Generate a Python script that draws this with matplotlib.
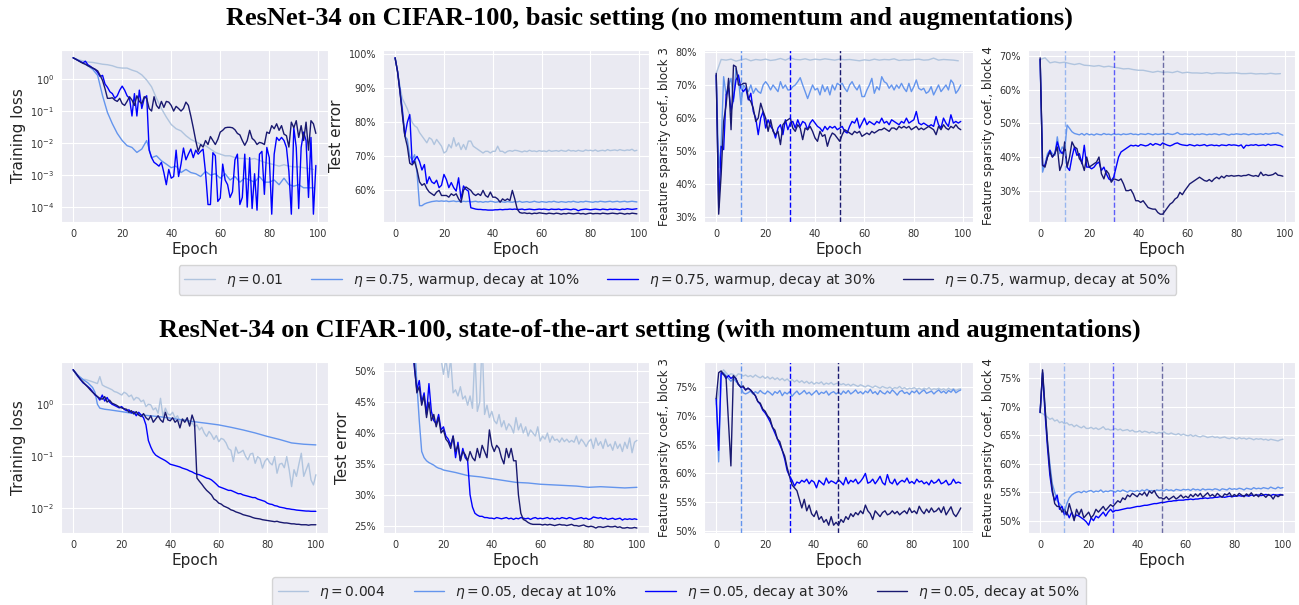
import matplotlib
matplotlib.use("Agg")
import matplotlib.pyplot as plt
import numpy as np
import seaborn as sns
from matplotlib.ticker import PercentFormatter

sns.set_style("darkgrid")
plt.rcParams["font.family"] = ["DejaVu Sans"]

colors = ["lightsteelblue", "cornflowerblue", "blue", "midnightblue"]
labels_top = [r"$\eta = 0.01$", r"$\eta = 0.75$, warmup, decay at 10%",
              r"$\eta = 0.75$, warmup, decay at 30%", r"$\eta = 0.75$, warmup, decay at 50%"]
labels_bot = [r"$\eta = 0.004$", r"$\eta = 0.05$, decay at 10%",
              r"$\eta = 0.05$, decay at 30%", r"$\eta = 0.05$, decay at 50%"]
title_top = "ResNet-34 on CIFAR-100, basic setting (no momentum and augmentations)"
title_bot = "ResNet-34 on CIFAR-100, state-of-the-art setting (with momentum and augmentations)"

# ---------------- top row (basic setting), epochs 0..99 ----------------
# training loss; "_2" series are sampled every 2 epochs
loss_t_a2 = [4.6, 4.0, 3.7, 3.4, 3.3, 3.1, 2.9, 2.8, 2.6, 2.3,
             2.2, 2.2, 1.9, 1.7, 1.35, 0.93, 0.57, 0.25, 0.12, 0.065,
             0.038, 0.028, 0.024, 0.017, 0.013, 0.011, 0.0093, 0.0083, 0.0065, 0.0051,
             0.0045, 0.004, 0.004, 0.0035, 0.0033, 0.0033, 0.0031, 0.0033, 0.0029, 0.0025,
             0.0023, 0.0021, 0.0019, 0.0021, 0.0019, 0.0018, 0.0018, 0.0017, 0.0016, 0.0015]
loss_t_b2 = [4.6, 3.9, 3.2, 2.6, 2.0, 1.3, 0.3, 0.09, 0.04, 0.02,
             0.012, 0.0083, 0.0073, 0.0051, 0.0065, 0.012, 0.0035, 0.004, 0.0028, 0.0022,
             0.0017, 0.0019, 0.0012, 0.0015, 0.0012, 0.0011, 0.0009, 0.0013, 0.001, 0.0011,
             0.0008, 0.0011, 0.0007, 0.0009, 0.0006, 0.0008, 0.0007, 0.0006, 0.0009, 0.0006,
             0.0006, 0.0007, 0.0005, 0.0008, 0.0005, 0.00045, 0.0005, 0.0004, 0.0004, 0.0004]
loss_t_c = [4.6, 4.2, 3.8, 3.5, 3.2, 3.6, 2.8, 2.5, 2.2, 2.0,
            1.6, 1.2, 1.3, 0.7, 0.55, 0.4, 0.35, 0.25, 0.3, 0.45,
            0.6, 0.45, 0.3, 0.25, 0.07, 0.35, 0.07, 0.45, 0.12, 0.25,
            0.3, 0.006, 0.0035, 0.0025, 0.0022, 0.0019, 0.0025, 0.0012, 0.0005, 0.0015,
            0.0008, 0.0009, 0.006, 0.0009, 0.0022, 0.007, 0.003, 0.0045, 0.0065, 0.0035,
            0.006, 0.0045, 0.0055, 0.0065, 0.0012, 0.00012, 0.00012, 0.005, 0.004, 0.00015,
            0.00019, 0.0022, 0.0007, 0.0005, 0.0002, 0.0003, 0.003, 0.0045, 0.00012, 0.0002,
            0.0045, 0.0001, 0.0035, 0.00009, 0.0011, 0.00008, 0.0045, 0.0055, 0.00025, 0.0073,
            0.0035, 0.00006, 0.0045, 0.015, 0.012, 0.015, 0.012, 0.0073, 0.0013, 0.00006,
            0.03, 0.0073, 0.00009, 0.0073, 0.022, 0.012, 0.0002, 0.015, 0.00006, 0.002]
loss_t_d = [4.6, 4.2, 3.8, 3.4, 3.1, 2.9, 2.6, 2.4, 2.2, 2.0,
            1.8, 1.3, 0.9, 0.5, 0.25, 0.25, 0.26, 0.22, 0.2, 0.25,
            0.17, 0.15, 0.2, 0.28, 0.22, 0.15, 0.3, 0.2, 0.17, 0.28,
            0.25, 0.12, 0.1, 0.28, 0.15, 0.12, 0.2, 0.13, 0.2, 0.19,
            0.15, 0.1, 0.14, 0.12, 0.1, 0.12, 0.19, 0.15, 0.07, 0.03,
            0.012, 0.0055, 0.009, 0.0075, 0.012, 0.009, 0.016, 0.012, 0.009, 0.013,
            0.022, 0.025, 0.03, 0.031, 0.031, 0.03, 0.026, 0.02, 0.018, 0.012,
            0.0085, 0.012, 0.025, 0.014, 0.012, 0.009, 0.0105, 0.01, 0.009, 0.022,
            0.02, 0.035, 0.028, 0.04, 0.025, 0.035, 0.019, 0.017, 0.0075, 0.045,
            0.03, 0.05, 0.015, 0.035, 0.012, 0.045, 0.006, 0.05, 0.04, 0.02]

# test error (%)
err_t_a = [99, 95, 90.5, 87, 85.5, 84, 82, 80, 79, 78.5,
           77, 76, 75, 74, 75.5, 75, 73.5, 75, 74, 73,
           71, 71.5, 73.5, 72.5, 75.5, 73, 74, 72, 73.5, 72,
           74.5, 74.5, 73, 72.5, 72, 71.5, 71, 71.5, 71.5, 71,
           71.5, 71.5, 73, 71.5, 71.5, 71, 71.5, 71.7, 71.5, 71.8,
           71.7, 71.5, 71.3, 71.6, 71.4, 71.8, 71.5, 71.6, 71.4, 71.7,
           71.5, 71.6, 71.4, 71.8, 71.5, 71.6, 71.7, 71.5, 71.8, 71.6,
           71.5, 71.9, 71.6, 71.7, 71.5, 71.8, 71.6, 71.5, 71.9, 71.7,
           71.8, 71.6, 71.9, 71.5, 71.7, 71.8, 71.6, 72.0, 71.7, 71.8,
           71.9, 71.7, 72.0, 71.8, 71.7, 71.9, 71.8, 72.1, 71.6, 71.8]
err_t_b = [99, 95, 90, 84, 76, 75, 70, 69, 70.5, 65,
           55.5, 55.5, 56, 56.3, 56.5, 56.7, 56.8, 56.9, 56.8, 56.9,
           56.8, 56.9, 56.7, 56.8, 56.9, 56.7, 56.8, 56.6, 56.8, 56.7,
           56.8, 56.6, 56.7, 56.8, 56.6, 56.7, 56.5, 56.7, 56.6, 56.8,
           56.7, 56.5, 56.6, 56.8, 56.6, 56.5, 56.7, 56.6, 56.5, 56.7,
           56.6, 56.8, 56.5, 56.6, 56.7, 56.5, 56.6, 56.8, 56.6, 56.5,
           56.7, 56.6, 56.5, 56.7, 56.6, 56.8, 56.6, 56.5, 56.7, 56.6,
           56.5, 56.7, 56.6, 56.8, 56.6, 56.5, 56.7, 56.6, 56.8, 56.7,
           56.6, 56.5, 56.7, 56.6, 56.8, 56.7, 56.6, 56.7, 56.8, 56.6,
           56.7, 56.8, 56.6, 56.7, 56.8, 56.6, 56.7, 56.8, 56.7, 56.6]
err_t_c = [99, 95, 89, 83, 76, 80, 82.3, 68, 69, 70,
           68.5, 66, 67.6, 62, 64, 62.5, 62, 63, 60.8, 61.5,
           64.7, 63.2, 60.8, 62.3, 60.8, 59.8, 63.7, 57.4, 61.3, 60.3,
           59.8, 54.9, 54.7, 54.5, 54.4, 54.4, 54.3, 54.3, 54.2, 54.2,
           54.2, 54.3, 54.3, 54.4, 54.3, 54.4, 54.4, 54.5, 54.4, 54.5,
           54.4, 54.4, 54.5, 54.3, 54.4, 54.5, 54.4, 54.3, 54.4, 54.5,
           54.4, 54.5, 54.4, 54.3, 54.5, 54.4, 54.4, 54.5, 54.3, 54.4,
           54.5, 54.4, 54.3, 54.5, 54.4, 54.0, 54.3, 54.4, 54.5, 54.4,
           54.3, 54.4, 54.5, 54.4, 54.3, 54.5, 54.4, 54.3, 54.5, 54.4,
           54.5, 54.4, 54.3, 54.5, 54.4, 54.6, 54.5, 54.4, 54.5, 54.6]
err_t_d = [99, 95, 89, 82, 76, 73, 68, 67.5, 68.5, 66,
           62.5, 61.5, 62, 60.5, 59.5, 59, 58.5, 59.5, 60, 58.5,
           58.5, 58.5, 58, 59, 58.5, 59, 57.5, 56.5, 60, 61,
           60.5, 60, 59, 58.5, 59, 58.5, 60, 58.5, 58, 59.5,
           58, 58, 57.5, 56.5, 57.5, 57, 57.5, 57, 60, 57.5,
           54.5, 53.5, 53.3, 53.4, 53.2, 53.3, 53.1, 53.3, 53.2, 53.4,
           53.3, 53.2, 53.1, 53.3, 53.2, 53.1, 53.3, 53.2, 53.0, 53.2,
           53.1, 53.3, 53.2, 53.1, 53.2, 53.3, 53.1, 53.2, 53.0, 53.2,
           53.3, 53.1, 53.2, 53.2, 53.1, 53.3, 53.2, 53.1, 53.2, 53.3,
           53.2, 53.1, 53.3, 53.2, 53.0, 53.2, 53.1, 53.3, 53.2, 53.1]

# feature sparsity, block 3 (%)
b3_t_a2 = [73.5, 77.7, 77.5, 77.8, 77.2, 77.6, 77.9, 77.3, 77.7, 77.5,
           77.8, 77.4, 77.6, 78.0, 77.5, 78.2, 77.7, 77.6, 77.9, 77.5,
           77.8, 77.6, 77.9, 77.7, 77.5, 77.8, 77.6, 77.7, 77.5, 77.3,
           77.6, 77.4, 77.8, 77.5, 77.7, 77.6, 77.9, 77.4, 77.6, 77.5,
           77.7, 77.8, 77.5, 77.6, 78.1, 77.5, 77.7, 77.6, 77.5, 77.3]
b3_t_b = [73, 45, 52, 72.5, 67, 70, 72, 65, 75, 72,
          64, 70, 69, 68, 70, 67.5, 69, 68, 67.5, 70,
          71, 70, 68.5, 70, 69, 68, 71, 69, 70, 68.5,
          68.5, 69.5, 70, 71, 72.2, 70, 68, 65.9, 68, 70,
          68.5, 69, 67, 70, 68, 69.5, 67, 70, 68.5, 70.5,
          70, 70.5, 69, 68, 70, 71, 69.5, 68.5, 70, 66.5,
          66.5, 68.5, 70, 72, 67.5, 69.5, 68.5, 72.5, 71, 70.5,
          69, 70, 68.5, 70, 69, 70.5, 69, 68, 70.5, 68,
          69.5, 71.5, 69, 68.5, 69, 67.5, 68, 69.5, 67, 68.5,
          70, 68, 69, 70, 68.5, 71.5, 70.5, 67.5, 68.5, 70]
b3_t_c = [73, 33, 51.5, 50.5, 67, 69, 62, 66, 71.5, 73,
          69, 68, 69, 65.5, 67.5, 62, 60, 55, 60, 62,
          57, 59.5, 57.5, 56.5, 54, 57, 58, 55, 59.5, 56.5,
          58.5, 59, 57, 59.5, 57.5, 59, 58.5, 56.5, 58.5, 59.5,
          58.5, 57.5, 57, 56, 57.5, 56.5, 57.5, 57, 57.5, 56.5,
          57, 57.5, 56, 55.5, 57.5, 59, 58.5, 60, 57, 58.5,
          60, 58, 59, 58.5, 58, 59, 58.5, 60, 58.5, 59,
          58, 59.5, 59, 58.5, 58, 59, 58.5, 60, 58.5, 59,
          59.5, 62, 58.5, 58, 58.5, 58, 57.5, 58, 57.5, 60.5,
          58, 57, 60, 58.5, 57.5, 61, 58.5, 59, 58.5, 59]
b3_t_d = [73.5, 31, 43, 59, 64, 72, 56.5, 76, 75.5, 70,
          70, 70.5, 70.5, 66, 65, 63, 59, 60, 64.5, 62,
          60, 56, 59.5, 56, 55, 56, 52, 58, 59, 59.5,
          60, 57, 56, 58, 57, 53.5, 57, 56.5, 57.5, 56,
          54, 53, 56, 54.5, 55, 51.5, 54, 55.5, 55, 54,
          53, 55, 56.5, 56, 55.5, 55, 56, 55.5, 56, 54.5,
          55, 55.5, 55, 56, 55.5, 56, 56.5, 56.5, 57, 56.5,
          56, 57, 57, 56.5, 57.5, 57, 57.5, 57, 57.5, 56.5,
          57, 57.5, 56.5, 57, 56.5, 57, 57.5, 57, 56.5, 55,
          57.5, 56.5, 58, 57, 56.5, 57.5, 57, 58, 57, 56.5]

# feature sparsity, block 4 (%)
b4_t_a2 = [69, 69.5, 68, 68.3, 68, 68.2, 67.8, 67.5, 67.8, 67.3,
           67.2, 67, 67.2, 66.8, 67, 66.7, 66.5, 66.2, 66.3, 66,
           65.8, 65.8, 65.5, 65.2, 65.5, 65.2, 65.3, 65.1, 65.5, 65,
           65.2, 65, 65, 64.9, 65.1, 64.8, 65, 65, 64.9, 65,
           65, 64.8, 64.8, 64.9, 64.7, 64.8, 64.7, 64.9, 64.7, 64.8]
b4_t_b = [69, 35.5, 38, 41, 42, 41, 40.5, 46, 41, 43,
          42, 49.5, 48.5, 47.5, 47, 46.8, 46.6, 47, 46.5, 47,
          46.6, 46.8, 46.5, 46.9, 46.7, 46.6, 47, 46.7, 46.8, 46.6,
          46.9, 46.7, 46.8, 46.6, 46.9, 46.7, 46.8, 47, 46.7, 46.8,
          46.6, 46.9, 46.8, 46.7, 47, 46.8, 46.6, 46.9, 46.7, 46.8,
          46.9, 46.7, 47, 46.8, 46.7, 46.9, 47.3, 46.8, 46.7, 46.9,
          46.8, 46.7, 46.9, 46.6, 46.8, 46.7, 46.9, 46.8, 46.6, 46.8,
          46.7, 46.9, 46.8, 46.6, 46.8, 46.9, 46.7, 46.5, 46.8, 46.7,
          46.9, 46.8, 46.7, 46.9, 46.8, 46.6, 46.8, 46.9, 46.7, 46.8,
          46.9, 46.7, 47, 46.8, 46.9, 47.1, 47, 47.2, 46.8, 46.5]
b4_t_c = [69, 37.5, 37.5, 40, 42, 40, 41, 44.5, 42, 41,
          42.5, 37, 36, 40, 43, 40.5, 41, 38, 43.5, 37,
          37, 36.5, 37, 38, 38.5, 36, 37, 35, 33.5, 33,
          34, 37, 40, 41.5, 42, 42.5, 43, 43.5, 43.3, 43.5,
          43.2, 43.7, 43.5, 43.3, 43.5, 44, 43.5, 44, 43.8, 43.5,
          44.2, 43.8, 43.5, 43.3, 43.6, 44, 44.2, 43.8, 43.6, 43.5,
          43.4, 43.7, 43.5, 43.3, 43.6, 43.4, 43.5, 43.7, 43.3, 43.5,
          43.6, 43.4, 43.5, 43.3, 43.6, 43.5, 43.4, 43.7, 43.5, 43.6,
          43.5, 43.3, 43.6, 42.6, 43.5, 43.4, 43.6, 43.5, 43.7, 43.4,
          43.5, 43.6, 43.4, 43.8, 43.5, 43.6, 43.7, 43.5, 43.4, 43.0]
b4_t_d = [69.5, 37.5, 37, 40, 41.5, 40, 41, 43, 36, 38,
          44.5, 37, 40, 44.5, 43, 42.5, 39.5, 38.5, 36, 40,
          37, 37.5, 38, 38.5, 40, 35, 33.5, 36, 35, 32.5,
          33.5, 33.3, 33, 33.5, 32, 30, 30, 30.3, 29, 27,
          27, 26.5, 27, 26, 25, 24.7, 24.5, 24.5, 23.5, 23,
          23, 24, 25, 26, 26.5, 27.5, 28, 29.5, 28.8, 30,
          31, 32, 32.5, 33, 33.5, 34, 33.5, 33, 32.8, 33.3,
          32.7, 33.5, 34, 33.5, 34.3, 33.8, 34.5, 34.3, 34.5, 34.3,
          34.4, 34.5, 34.3, 34.5, 34.5, 34.8, 34.5, 34.3, 34.5, 34.2,
          35.5, 34.5, 34.8, 34.5, 34.6, 34.8, 35.3, 34.6, 34.5, 34.3]

# ---------------- bottom row (state of the art), epochs 0..100 ----------------
loss_b_a = [4.6, 3.8, 3.4, 3.2, 3.0, 3.0, 2.9, 2.8, 2.7, 2.6,
            2.5, 3.4, 2.35, 2.2, 2.1, 2.0, 1.9, 1.75, 1.7, 1.6,
            1.5, 1.7, 1.6, 1.4, 1.5, 1.2, 1.35, 1.3, 1.12, 1.2,
            0.9, 1.0, 0.97, 0.78, 0.85, 0.67, 1.3, 0.58, 0.84, 0.65,
            0.62, 0.7, 0.54, 0.6, 0.46, 0.52, 0.5, 0.48, 0.4, 0.44,
            0.37, 0.4, 0.32, 0.36, 0.28, 0.24, 0.3, 0.26, 0.21, 0.25,
            0.19, 0.22, 0.21, 0.18, 0.14, 0.13, 0.079, 0.15, 0.114, 0.12,
            0.13, 0.1, 0.085, 0.11, 0.114, 0.073, 0.098, 0.09, 0.059, 0.08,
            0.091, 0.075, 0.068, 0.098, 0.047, 0.07, 0.073, 0.06, 0.098, 0.055,
            0.026, 0.055, 0.041, 0.07, 0.114, 0.041, 0.055, 0.073, 0.035, 0.028,
            0.044]
loss_b_b_ep = [0, 2, 4, 6, 8, 9, 10, 11, 13, 15, 20, 25, 30, 35, 40, 45, 50,
               55, 60, 65, 70, 75, 80, 85, 90, 95, 100]
loss_b_b = [4.6, 3.6, 3.0, 2.6, 2.1, 1.7, 1.0, 0.84, 0.8, 0.78, 0.72, 0.66, 0.61,
            0.58, 0.54, 0.50, 0.46, 0.43, 0.40, 0.36, 0.32, 0.28, 0.24, 0.21,
            0.18, 0.17, 0.165]
loss_b_c = [4.6, 4.0, 3.4, 3.0, 2.6, 2.4, 2.2, 2.0, 1.75, 1.5,
            1.4, 1.2, 1.5, 1.15, 1.35, 1.1, 1.0, 0.95, 0.9, 0.85,
            0.9, 0.8, 0.75, 0.78, 0.68, 0.72, 0.6, 0.7, 0.62, 0.55,
            0.4, 0.2, 0.15, 0.12, 0.105, 0.098, 0.092, 0.087, 0.082, 0.076,
            0.07, 0.068, 0.066, 0.064, 0.062, 0.059, 0.057, 0.055, 0.052, 0.05,
            0.047, 0.045, 0.044, 0.042, 0.04, 0.038, 0.037, 0.035, 0.032, 0.029,
            0.026, 0.025, 0.024, 0.023, 0.022, 0.022, 0.021, 0.02, 0.019, 0.019,
            0.018, 0.0175, 0.017, 0.0165, 0.016, 0.016, 0.015, 0.0145, 0.014, 0.0135,
            0.0125, 0.012, 0.0118, 0.0112, 0.011, 0.0105, 0.0103, 0.0101, 0.0098, 0.0097,
            0.0095, 0.0094, 0.0092, 0.0091, 0.009, 0.0089, 0.0088, 0.0088, 0.0087, 0.0087,
            0.0087]
loss_b_d = [4.6, 4.0, 3.5, 3.0, 2.7, 2.4, 2.15, 1.9, 1.7, 1.55,
            1.4, 1.3, 1.25, 1.4, 1.1, 1.2, 1.05, 1.0, 0.95, 0.88,
            0.85, 0.82, 0.8, 0.7, 0.75, 0.65, 0.72, 0.62, 0.58, 0.66,
            0.55, 0.5, 0.6, 0.45, 0.52, 0.6, 0.5, 0.45, 0.7, 0.5,
            0.48, 0.55, 0.45, 0.5, 0.35, 0.52, 0.45, 0.55, 0.38, 0.62,
            0.45, 0.038, 0.033, 0.029, 0.025, 0.022, 0.02, 0.018, 0.015, 0.014,
            0.0125, 0.012, 0.011, 0.0105, 0.01, 0.0093, 0.009, 0.0085, 0.0082, 0.0079,
            0.0075, 0.0073, 0.0071, 0.0069, 0.0066, 0.0064, 0.0063, 0.0062, 0.006, 0.0059,
            0.0058, 0.0057, 0.0056, 0.0055, 0.0056, 0.0054, 0.0053, 0.0052, 0.0052, 0.0051,
            0.005, 0.005, 0.0049, 0.0049, 0.0048, 0.0048, 0.0048, 0.0047, 0.0048, 0.0048,
            0.0048]

err_b_a = [99, 95, 90, 86, 82, 78, 75, 72, 69, 66,
           64, 62, 60, 58, 57, 56, 55, 54, 53, 52,
           49.5, 52, 49, 52, 46.5, 47, 46, 47.5, 45.5, 46,
           44.5, 46, 44, 53, 43.5, 45, 55, 43, 44.5, 42.5,
           43.5, 42, 41.5, 43, 41, 42, 40.5, 41.5, 41, 40,
           42.5, 40.5, 41.5, 40, 41, 39.5, 40.5, 40, 39.5, 41,
           38.7, 39.5, 39, 40, 38.5, 39.5, 38.8, 39, 38.5, 39.2,
           38.6, 39, 38.5, 38.8, 38.5, 39.5, 38.2, 39, 38.5, 37.8,
           38.6, 39, 37.5, 39.2, 38, 38.6, 37.5, 39, 37.8, 38.2,
           37.2, 38.6, 37.5, 38.2, 37, 38.5, 37.5, 39.2, 36.8, 38.5,
           38.8]
err_b_b_ep = [0, 2, 4, 6, 8, 9, 10, 11, 12, 13, 14, 15, 16, 17, 18, 19, 20,
              25, 30, 35, 40, 45, 50, 55, 60, 65, 70, 75, 80, 85, 90, 95, 100]
err_b_b = [99, 90, 80, 68, 55, 48, 42, 37, 36, 35.5, 35.2, 35, 34.8, 34.5, 34.3,
           34.2, 34, 33.6, 33.1, 32.9, 32.6, 32.3, 32.0, 31.9, 31.7, 31.6, 31.5,
           31.4, 31.2, 31.3, 31.2, 31.1, 31.2]
err_b_c = [99, 95, 90, 84, 80, 72, 62, 55, 50.5, 47,
           48.5, 45, 46.5, 43, 48, 43.5, 42, 41.5, 43, 40.5,
           41, 39.5, 39, 38, 39.5, 36, 38.5, 35.5, 37.5, 36,
           35.5, 30, 28, 27, 26.7, 26.5, 26.5, 26.3, 26.3, 26.2,
           26.2, 26.1, 26.3, 26.2, 26.1, 26.2, 26.3, 26.1, 26.2, 26.0,
           26.2, 26.1, 26.3, 26.2, 26.1, 26.2, 26.0, 26.2, 26.3, 26.1,
           26.2, 26.1, 26.2, 26.3, 26.1, 26.2, 26.0, 26.2, 26.1, 26.3,
           26.2, 26.1, 26.3, 26.2, 26.0, 26.1, 26.2, 26.3, 26.1, 26.2,
           26.0, 26.1, 26.4, 26.3, 26.2, 26.3, 26.1, 26.2, 26.0, 26.1,
           26.2, 26.0, 26.1, 26.2, 25.9, 26.1, 26.0, 26.1, 26.0, 26.1,
           26.0]
err_b_d = [99, 95, 90, 84, 80, 72, 62, 54, 51, 46.5,
           47.5, 44.5, 46, 42.5, 45, 42, 43, 41, 42.5, 40,
           40.5, 39, 38.5, 37.5, 39.5, 37, 38, 35.5, 37, 36.5,
           35.5, 37, 36, 35.5, 37.5, 36, 38, 37, 36, 40.5,
           38, 37, 38, 37.5, 36, 35, 37.5, 36, 37.5, 35.5,
           35.5, 30, 27, 26, 25.8, 25.5, 25.3, 25.2, 25.2, 25.2,
           25.2, 25.1, 25.2, 25.1, 25.2, 25.1, 25.0, 25.1, 25.2, 25.1,
           25.1, 25.0, 25.1, 25.2, 25.0, 25.0, 24.9, 25.0, 25.1, 24.9,
           24.8, 24.9, 24.8, 24.6, 24.8, 24.8, 24.7, 24.8, 24.9, 24.8,
           24.8, 24.9, 24.7, 24.8, 24.6, 24.6, 24.7, 24.6, 24.6, 24.7,
           24.6]

b3_b_a = [72, 74, 77.4, 78, 77.5, 77, 77.3, 77.2, 76.8, 77.3,
          77.2, 76.9, 77.1, 76.8, 77, 76.7, 77.1, 76.8, 76.6, 76.9,
          76.5, 76.8, 76.4, 76.7, 76.3, 76.6, 76.2, 76.5, 76.1, 76.4,
          76, 76.3, 75.9, 76.2, 75.8, 76.1, 75.7, 76, 75.6, 75.9,
          75.5, 75.8, 75.6, 75.9, 75.4, 75.7, 75.5, 75.8, 75.4, 75.6,
          75.7, 75.4, 75.6, 75.3, 75.5, 75.2, 75.5, 75.3, 75.1, 75.4,
          75.2, 75.0, 75.3, 75.1, 74.9, 75.2, 75.0, 74.8, 75.1, 74.9,
          74.8, 75.0, 74.7, 74.9, 74.8, 75.1, 74.7, 74.9, 74.6, 74.8,
          74.7, 74.9, 74.6, 74.8, 74.5, 74.8, 74.6, 74.9, 74.5, 74.7,
          74.6, 74.8, 74.5, 74.7, 74.4, 74.8, 74.5, 74.7, 74.4, 74.6,
          74.7]
b3_b_b = [73, 62, 77, 77.5, 77, 76.5, 76, 76.5, 76, 75.5,
          75, 74, 73.8, 74, 74.3, 73.8, 74.2, 73.9, 74.4, 74,
          73.8, 74.3, 74, 73.6, 74.2, 73.9, 74.4, 73.5, 74.1, 73.8,
          74.2, 73.4, 73.9, 74.3, 73.7, 74, 74.4, 73.8, 74.1, 73.6,
          74, 74.4, 73.7, 74.1, 73.9, 74.3, 73.6, 74, 74.2, 73.8,
          74.1, 73.7, 74.3, 73.9, 74.4, 73.8, 74.1, 74.5, 73.9, 74.2,
          73.8, 74.3, 74, 74.6, 73.9, 74.2, 73.7, 74.4, 74, 73.8,
          74.3, 73.9, 74.5, 74.1, 73.6, 74.2, 74.4, 73.9, 74.1, 73.7,
          74.3, 74, 74.4, 73.8, 74.2, 74.5, 73.9, 74.1, 74.3, 73.8,
          74.2, 74.5, 74, 74.3, 73.9, 74.4, 74.1, 74.6, 74, 74.3,
          74.5]
b3_b_c = [73, 64, 77.5, 77.2, 76.5, 77, 76.5, 76.8, 76.5, 75.5,
          75, 75, 74.5, 74.8, 74.5, 74, 73.5, 72.5, 72, 71,
          70.5, 69.8, 69, 68, 67, 66, 65, 64, 62.5, 60.5,
          59.5, 58.8, 57.8, 58.5, 58.3, 58.8, 58.5, 59, 58.2, 58.8,
          58.5, 57.5, 58.8, 58.4, 58, 59.2, 58.3, 58.7, 58.5, 58.2,
          58.9, 58.5, 58, 59.3, 58.2, 58.8, 58.5, 59, 58.2, 58.6,
          59.2, 60, 58.3, 58.5, 59, 58.2, 58.8, 59.5, 58.4, 58,
          59.8, 58.5, 58.2, 59, 58, 58.5, 58.8, 58.5, 59.2, 58.3,
          58.6, 58.2, 59, 58.5, 58.7, 58.2, 58.5, 58, 58.8, 58.3,
          58.5, 59, 58.2, 58.4, 58.8, 58, 58.2, 59, 58.3, 58.5,
          58.3]
b3_b_d = [73, 77.5, 77.8, 77.2, 76.8, 69, 61.3, 77, 76.5, 75.5,
          75, 75.2, 74.5, 74.8, 74.5, 74, 73.5, 72.5, 72.2, 71.2,
          70.8, 70, 69.5, 68, 67.5, 66, 65.5, 64, 63, 61,
          59.5, 58, 57.5, 57, 55.5, 54, 55.5, 53.5, 54.5, 53,
          52.5, 53.5, 52, 52.5, 51.5, 52, 51, 52.5, 51, 51.5,
          51, 52, 51.5, 52.5, 52, 53, 52.5, 53.2, 52.8, 53.5,
          53, 54.5, 53.5, 53, 52, 53.5, 53, 52.5, 53.2, 53.5,
          52.8, 53, 53.5, 53, 53.4, 52.8, 53.2, 53.5, 53, 54,
          53.2, 53.5, 53, 54.3, 53.5, 53, 53.8, 53.2, 54, 53.3,
          53.5, 54, 53.2, 54.2, 52.8, 53.5, 54.2, 53, 52.5, 53.2,
          54]

b4_b_a = [69, 68.8, 68.5, 68.2, 67.8, 68, 67.5, 67.7, 67.2, 67.4,
          67, 67.2, 66.8, 66.9, 66.5, 66.8, 66.5, 66.3, 66.6, 66.2,
          66.2, 66.4, 66.1, 66.3, 66, 66.2, 66.5, 66, 66.1, 65.9,
          66, 66.2, 65.9, 66.1, 65.8, 65.9, 66, 65.7, 65.9, 65.6,
          65.6, 65.8, 65.5, 65.7, 65.6, 65.4, 65.6, 65.5, 65.3, 65.5,
          65.4, 65.6, 65.3, 65.2, 65.4, 65.2, 65.1, 65.3, 65.0, 65.2,
          65, 64.9, 65.1, 64.8, 65, 64.8, 64.7, 64.9, 64.8, 64.6,
          64.7, 64.8, 64.6, 64.7, 64.5, 64.6, 64.7, 64.5, 64.4, 64.6,
          64.5, 64.3, 64.6, 64.4, 64.5, 64.3, 64.5, 64.4, 64.2, 64.4,
          64.3, 64.4, 64.2, 64.3, 64.1, 64.3, 64.2, 64.1, 64.0, 64.2,
          64.3]
b4_b_b = [69, 76, 70, 64, 60, 56.5, 55, 53.5, 53, 52.5,
          51.5, 53, 54, 54.5, 54.8, 55, 55.1, 54.9, 55.2, 55,
          55.2, 55.3, 55, 55.2, 55.1, 55.4, 55, 55.2, 55.1, 55.3,
          55.2, 55, 55.3, 55.1, 55.4, 55.2, 55, 55.3, 55.2, 55.1,
          55.3, 55.1, 55.4, 55.2, 55.5, 55.2, 55.3, 55.1, 55.4, 55.3,
          55.4, 55.2, 55.5, 55.3, 55.4, 55.2, 55.5, 55.4, 55.3, 55.5,
          55.4, 55.5, 55.3, 55.6, 55.4, 55.5, 55.3, 55.6, 55.4, 55.5,
          55.5, 55.4, 55.6, 55.5, 55.3, 55.6, 55.5, 55.4, 55.7, 55.5,
          55.6, 55.5, 55.7, 55.6, 55.4, 55.7, 55.6, 55.5, 55.8, 55.6,
          55.7, 55.6, 55.8, 55.7, 55.6, 55.9, 55.7, 55.6, 55.9, 55.7,
          55.8]
b4_b_c = [69, 76, 69, 63, 58, 55, 53.5, 54.5, 52, 52.5,
          51, 51.5, 50.5, 51.5, 50.5, 51, 50.8, 50.5, 50.2, 49.8,
          49.2, 50.5, 50, 50.8, 50.5, 51, 51.5, 50.8, 51.5, 52,
          51.5, 51.8, 51.8, 51.9, 52, 52.1, 52.2, 52.2, 52.3, 52.4,
          52.5, 52.5, 52.6, 52.7, 52.7, 52.8, 52.9, 53, 53, 53.1,
          53.2, 53.2, 53.3, 53.4, 53.4, 53.5, 53.5, 53.6, 53.6, 53.6,
          53.7, 53.7, 53.8, 53.7, 53.8, 53.8, 53.9, 53.9, 54, 53.9,
          54, 54, 54.1, 54.1, 54.2, 54.2, 54.1, 54.2, 54.3, 54.2,
          54.3, 54.3, 54.4, 54.3, 54.4, 54.4, 54.3, 54.5, 54.4, 54.5,
          54.5, 54.4, 54.5, 54.6, 54.5, 54.4, 54.6, 54.5, 54.5, 54.6,
          54.5]
b4_b_d = [69, 76.5, 70, 64, 59, 55.5, 53, 52.5, 52.5, 51.5,
          52, 51, 53, 51.5, 50, 52, 51, 52, 50.5, 51,
          51.5, 50.5, 51, 52, 51.5, 52, 52.5, 51.8, 52.3, 52.8,
          52.5, 53, 53.5, 53.2, 54, 53.7, 54.5, 54.2, 54.8, 54.5,
          54.2, 54.8, 54.5, 55, 54.3, 55.2, 54.8, 55.3, 54.5, 54,
          54, 53.8, 54.2, 53.7, 54, 54.3, 53.8, 54.1, 54.5, 54,
          54.3, 54, 54.6, 54.2, 54.7, 54.3, 54.8, 54.1, 54.5, 54.9,
          54.3, 54.6, 54.2, 54.8, 54.4, 54.1, 54.7, 54.5, 54.9, 54.2,
          54.6, 54.3, 54.8, 54.5, 54.2, 54.7, 54.4, 54.9, 54.3, 54.6,
          54.2, 54.8, 54.5, 54.1, 54.6, 54.4, 53.8, 54.5, 54.2, 54.5,
          54.5]

decay_epochs = [10, 30, 50]

# -----------------------------------------------------------------------------
W, H = 1299.0, 605.0


def box(l, t, r, b):
    return [l / W, 1 - b / H, (r - l) / W, (b - t) / H]


def every(vals, step=1):
    return np.arange(len(vals)) * step


def panel(ax, series, ylabel, log=False, pct=False, vl=False, yfs=11, vl_alpha=1.0):
    for (x, y), c in zip(series, colors):
        ax.plot(x, y, color=c, lw=1.0)
    if vl:
        for e, c in zip(decay_epochs, colors[1:]):
            ax.axvline(e, color=c, ls="--", lw=1.0, alpha=vl_alpha)
    if log:
        ax.set_yscale("log")
    if pct:
        ax.yaxis.set_major_formatter(PercentFormatter(xmax=100, decimals=0))
    ax.set_xticks([0, 20, 40, 60, 80, 100])
    ax.set_xlabel("Epoch", fontsize=11, labelpad=2)
    ax.set_ylabel(ylabel, fontsize=yfs, labelpad=3)
    ax.tick_params(labelsize=7, length=0, pad=5, colors="#333333")


fig = plt.figure(figsize=(12.99, 6.05), dpi=100)

lefts = [61, 383, 704, 1028]
rights = [328, 649, 973, 1295]
top_axes = [fig.add_axes(box(l, 50, r, 222)) for l, r in zip(lefts, rights)]
bot_axes = [fig.add_axes(box(l, 362, r, 533)) for l, r in zip(lefts, rights)]

# top row
panel(top_axes[0], [(every(loss_t_a2, 2), loss_t_a2), (every(loss_t_b2, 2), loss_t_b2),
                    (every(loss_t_c), loss_t_c), (every(loss_t_d), loss_t_d)],
      "Training loss", log=True)
panel(top_axes[1], [(every(err_t_a), err_t_a), (every(err_t_b), err_t_b),
                    (every(err_t_c), err_t_c), (every(err_t_d), err_t_d)],
      "Test error", pct=True)
panel(top_axes[2], [(every(b3_t_a2, 2), b3_t_a2), (every(b3_t_b), b3_t_b),
                    (every(b3_t_c), b3_t_c), (every(b3_t_d), b3_t_d)],
      "Feature sparsity coef., block 3", pct=True, vl=True, yfs=8.6)
panel(top_axes[3], [(every(b4_t_a2, 2), b4_t_a2), (every(b4_t_b), b4_t_b),
                    (every(b4_t_c), b4_t_c), (every(b4_t_d), b4_t_d)],
      "Feature sparsity coef., block 4", pct=True, vl=True, yfs=8.6, vl_alpha=0.6)

# bottom row
panel(bot_axes[0], [(every(loss_b_a), loss_b_a), (loss_b_b_ep, loss_b_b),
                    (every(loss_b_c), loss_b_c), (every(loss_b_d), loss_b_d)],
      "Training loss", log=True)
panel(bot_axes[1], [(every(err_b_a), err_b_a), (err_b_b_ep, err_b_b),
                    (every(err_b_c), err_b_c), (every(err_b_d), err_b_d)],
      "Test error", pct=True)
bot_axes[1].set_ylim(23.8, 51.5)
panel(bot_axes[2], [(every(b3_b_a), b3_b_a), (every(b3_b_b), b3_b_b),
                    (every(b3_b_c), b3_b_c), (every(b3_b_d), b3_b_d)],
      "Feature sparsity coef., block 3", pct=True, vl=True, yfs=8.6)
panel(bot_axes[3], [(every(b4_b_a), b4_b_a), (every(b4_b_b), b4_b_b),
                    (every(b4_b_c), b4_b_c), (every(b4_b_d), b4_b_d)],
      "Feature sparsity coef., block 4", pct=True, vl=True, yfs=8.6, vl_alpha=0.6)

fig.text(0.5, 1 - 18 / H, title_top, ha="center", va="center", fontsize=19,
         fontweight="bold", family="Liberation Serif", color="black")
fig.text(0.5, 1 - 330 / H, title_bot, ha="center", va="center", fontsize=19,
         fontweight="bold", family="Liberation Serif", color="black")

h_top = top_axes[0].get_lines()[:4]
h_bot = bot_axes[0].get_lines()[:4]
fig.legend(h_top, labels_top, loc="center", bbox_to_anchor=(677.5 / W, 1 - 280 / H),
           ncol=4, fontsize=10, handlelength=2.2, columnspacing=2.0, frameon=True)
fig.legend(h_bot, labels_bot, loc="center", bbox_to_anchor=(679 / W, 1 - 592 / H),
           ncol=4, fontsize=10, handlelength=2.2, columnspacing=2.0, frameon=True)

fig.savefig("out.png", dpi=100)
